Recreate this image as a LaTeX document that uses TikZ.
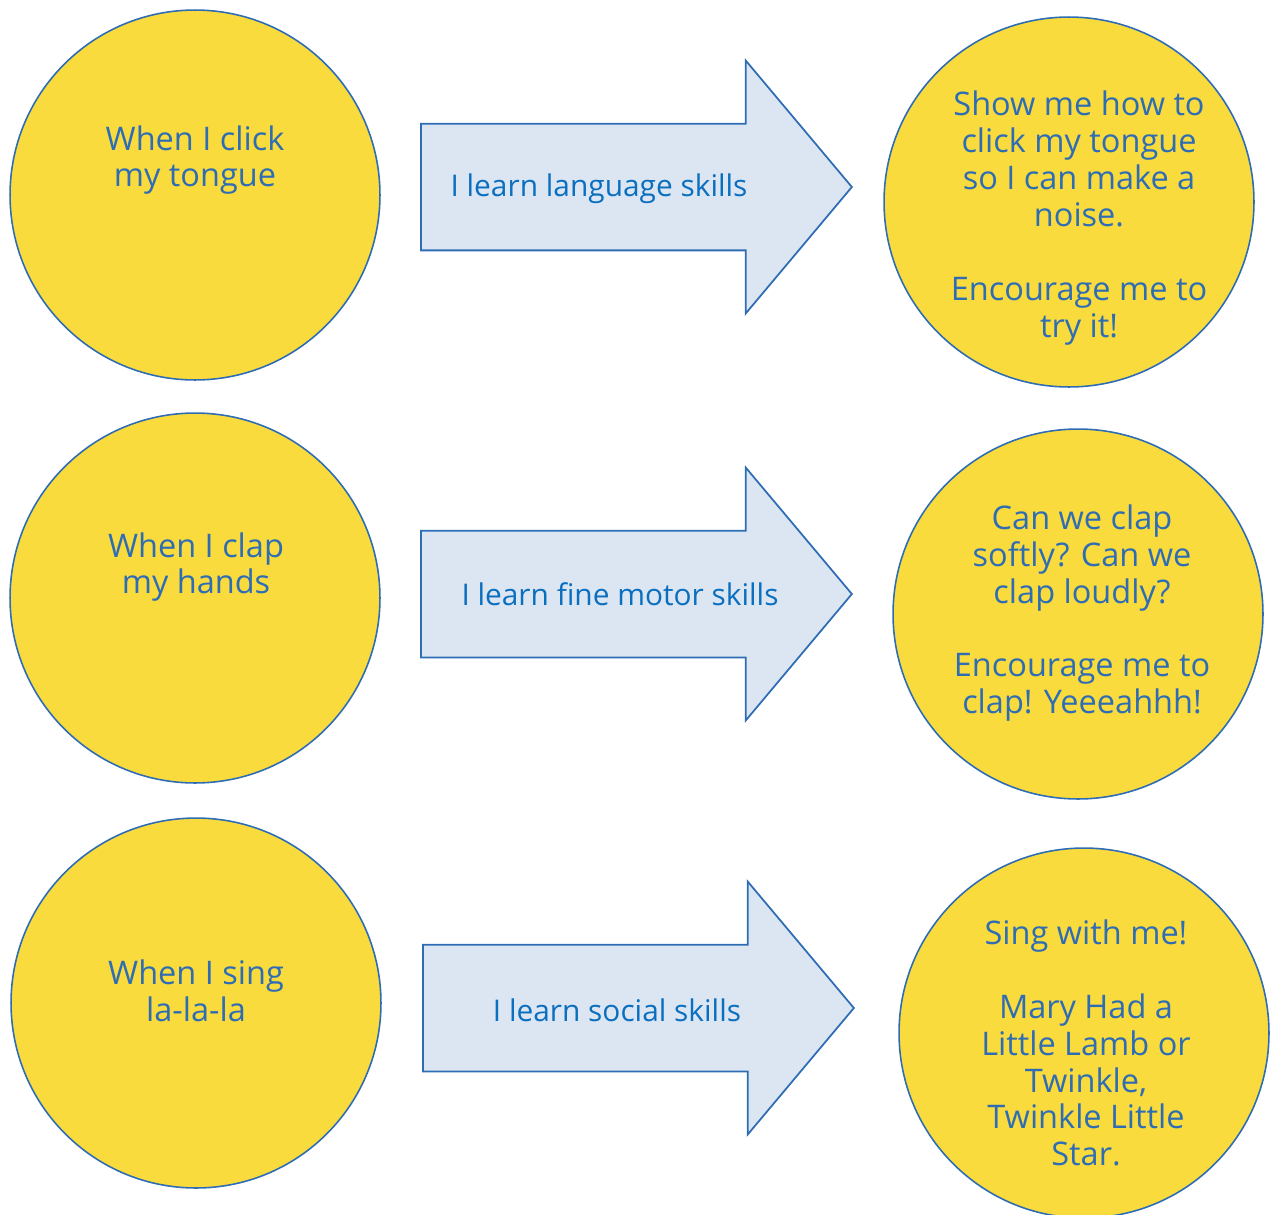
\documentclass[tikz,border=0pt]{standalone}
\usepackage{fontspec}
\setmainfont{Open Sans}
\usetikzlibrary{positioning}
\usetikzlibrary{shapes.arrows}
\definecolor{sunny}{HTML}{F9DB3D}
\definecolor{inkblue}{HTML}{2E6DB4}
\definecolor{paleblue}{HTML}{DCE6F2}
\definecolor{skillblue}{HTML}{0B6FC0}
\tikzset{bubble/.style = {circle, draw=inkblue, fill=sunny, line width=0.9pt,
                          minimum size=7.4cm, inner sep=0pt},
         say/.style = {text=inkblue, align=center, font=\fontsize{18.5}{21}\selectfont},
         skillarrow/.style = {single arrow, draw=inkblue, fill=paleblue, line width=1pt,
                              minimum height=8.62cm, inner xsep=0pt, inner ysep=1.25cm,
                              single arrow head extend=1.26cm, single arrow tip angle=100},
         skill/.style = {text=skillblue, font=\fontsize{17}{21}\selectfont}}

\begin{document}
\begin{tikzpicture}[x=0.02cm, y=-0.02cm]
    \useasboundingbox (0, 0) rectangle (1270, 1214);
    % row 1
    \node [bubble] (click) at (195, 195) {};
    \node [say] (clicktxt) at (195, 160) {When I click\\my tongue};
    \node [skillarrow, anchor=tip] (language) at (853, 187) {};
    \node [skill] (languagetxt) at (599, 189) {I learn language skills};
    \node [bubble] (showme) at (1069, 202) {};
    \node [say] (showmetxt) at (1079, 218) {Show me how to\\click my tongue\\so I can make a\\noise.\\[21pt]Encourage me to\\try it!};
    % row 2
    \node [bubble] (clap) at (195, 598) {};
    \node [say] (claptxt) at (196, 567) {When I clap\\my hands};
    \node [skillarrow, anchor=tip] (motor) at (853, 594) {};
    \node [skill] (motortxt) at (620, 594) {I learn fine motor skills};
    \node [bubble] (softly) at (1078, 614) {};
    \node [say] (softlytxt) at (1082, 613) {Can we clap\\softly? Can we\\clap loudly?\\[21pt]Encourage me to\\clap! Yeeeahhh!};
    % row 3
    \node [bubble] (sing) at (196, 1003) {};
    \node [say] (singtxt) at (196, 991) {When I sing\\la-la-la};
    \node [skillarrow, anchor=tip] (social) at (855, 1008) {};
    \node [skill] (socialtxt) at (617, 1010) {I learn social skills};
    \node [bubble] (singme) at (1084, 1033) {};
    \node [say] (singmetxt) at (1086, 1043) {Sing with me!\\[21pt] Mary Had a\\Little Lamb or\\Twinkle,\\Twinkle Little\\Star.};
\end{tikzpicture}
\end{document}
